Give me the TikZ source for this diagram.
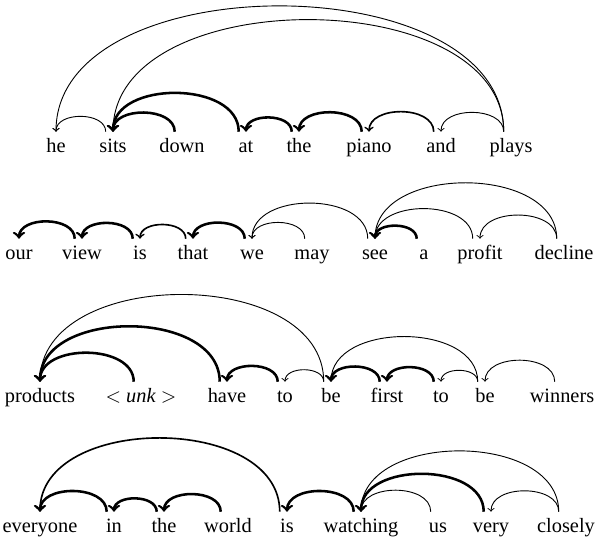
\documentclass[tikz,border=0pt]{standalone}
\usepackage{fontspec}
\setmainfont{Liberation Serif}
\usetikzlibrary{positioning}

% arc from a dependent word back to its head
\newcommand\deparc[3]{\draw[#1] ([xshift=-4pt]#2.north) to[out=90,in=90] (#3.north);}

\begin{document}
\begin{tikzpicture}
[x=0.55pt,y=0.55pt,
Word/.style={anchor=base,font=\fontsize{11.2}{13}\selectfont,inner xsep=0pt,inner ysep=3.5pt,text height=8pt,text depth=2.5pt},
ThinArc/.style={->,line width=0.5pt,looseness=1.05},
MidArc/.style={->,line width=0.9pt,looseness=1.05},
ThickArc/.style={->,line width=1.4pt,looseness=1.05}]

\useasboundingbox (0,0) rectangle (595,539);

% sentence 1
\node[Word] (a1) at (56,386) {he};
\node[Word] (a2) at (113,386) {sits};
\node[Word] (a3) at (182,386) {down};
\node[Word] (a4) at (246,386) {at};
\node[Word] (a5) at (299,386) {the};
\node[Word] (a6) at (369,386) {piano};
\node[Word] (a7) at (441,386) {and};
\node[Word] (a8) at (511,386) {plays};

\deparc{ThinArc}{a2}{a1}
\deparc{ThickArc}{a3}{a2}
\deparc{ThickArc}{a4}{a2}
\deparc{ThickArc}{a5}{a4}
\deparc{ThickArc}{a6}{a5}
\deparc{MidArc}{a7}{a6}
\deparc{ThinArc}{a8}{a7}
\deparc{ThinArc,looseness=0.98}{a8}{a2}
\deparc{ThinArc,looseness=0.96}{a8}{a1}

% sentence 2
\node[Word] (b1) at (19,279) {our};
\node[Word] (b2) at (82,279) {view};
\node[Word] (b3) at (140,279) {is};
\node[Word] (b4) at (193,279) {that};
\node[Word] (b5) at (252,279) {we};
\node[Word] (b6) at (312,279) {may};
\node[Word] (b7) at (375,279) {see};
\node[Word] (b8) at (424,279) {a};
\node[Word] (b9) at (480,279) {profit};
\node[Word] (b10) at (564,279) {decline};

\deparc{ThickArc}{b2}{b1}
\deparc{ThickArc}{b3}{b2}
\deparc{MidArc}{b4}{b3}
\deparc{ThickArc}{b5}{b4}
\deparc{ThinArc}{b6}{b5}
\deparc{ThinArc}{b7}{b5}
\deparc{ThickArc}{b8}{b7}
\deparc{ThinArc}{b9}{b7}
\deparc{ThinArc}{b10}{b7}
\deparc{ThinArc}{b10}{b9}

% sentence 3
\node[Word] (c1) at (40,136) {products};
\node[Word] (c2) at (141,136) {$<$ \textit{unk} $>$};
\node[Word] (c3) at (227,136) {have};
\node[Word] (c4) at (285,136) {to};
\node[Word] (c5) at (331,136) {be};
\node[Word] (c6) at (387,136) {first};
\node[Word] (c7) at (441,136) {to};
\node[Word] (c8) at (485,136) {be};
\node[Word] (c9) at (562,136) {winners};

\deparc{ThickArc}{c2}{c1}
\deparc{ThickArc}{c3}{c1}
\deparc{ThinArc}{c5}{c1}
\deparc{ThickArc}{c4}{c3}
\deparc{ThinArc}{c5}{c4}
\deparc{ThickArc}{c6}{c5}
\deparc{ThickArc}{c7}{c6}
\deparc{ThinArc}{c8}{c5}
\deparc{ThinArc}{c8}{c7}
\deparc{ThinArc}{c9}{c8}

% sentence 4
\node[Word] (d1) at (40,6) {everyone};
\node[Word] (d2) at (114,6) {in};
\node[Word] (d3) at (164,6) {the};
\node[Word] (d4) at (228,6) {world};
\node[Word] (d5) at (287,6) {is};
\node[Word] (d6) at (361,6) {watching};
\node[Word] (d7) at (438,6) {us};
\node[Word] (d8) at (491,6) {very};
\node[Word] (d9) at (566,6) {closely};

\deparc{ThickArc}{d2}{d1}
\deparc{MidArc}{d5}{d1}
\deparc{ThickArc}{d3}{d2}
\deparc{ThickArc}{d4}{d3}
\deparc{ThickArc}{d6}{d5}
\deparc{ThinArc}{d7}{d6}
\deparc{ThickArc}{d8}{d6}
\deparc{ThinArc}{d9}{d6}
\deparc{ThinArc}{d9}{d8}

\end{tikzpicture}
\end{document}
